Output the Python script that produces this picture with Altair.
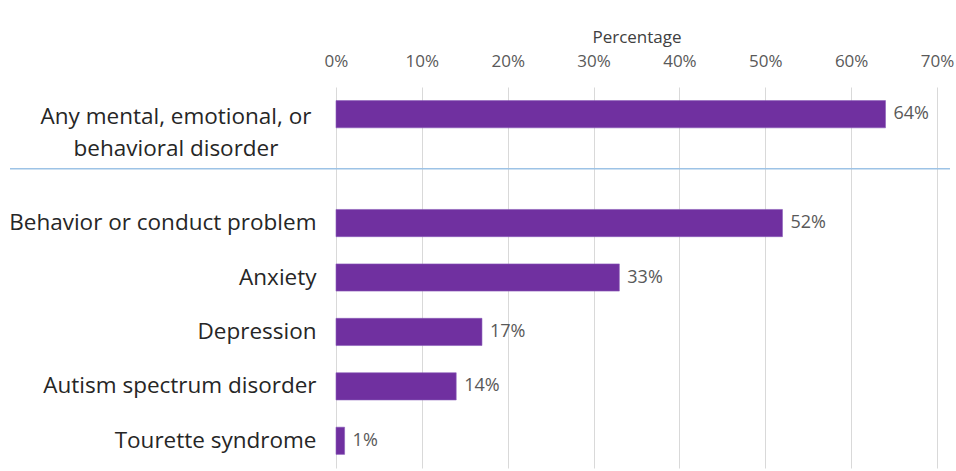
import altair as alt
import pandas as pd

categories = [
    "Any mental, emotional, or behavioral disorder",
    "Behavior or conduct problem",
    "Anxiety",
    "Depression",
    "Autism spectrum disorder",
    "Tourette syndrome",
]
values = [64, 52, 33, 17, 14, 1]
x_ticks = [0, 10, 20, 30, 40, 50, 60, 70]
blank_slot = " "
y_domain = [categories[0], blank_slot] + categories[1:]

FONT = "Open Sans"
PURPLE = "#7030A0"

df = pd.DataFrame({"cat": categories, "val": values})
top_df = pd.DataFrame({"cat": [categories[0]], "label": [["Any mental, emotional, or", "behavioral disorder"]]})
sep_df = pd.DataFrame({"cat": [blank_slot]})

y_scale = alt.Scale(domain=y_domain, paddingInner=0.5, paddingOuter=0.25)
x_scale = alt.Scale(domain=[0, 70], nice=False)

first = categories[0]

bars = alt.Chart(df).mark_bar(color=PURPLE, stroke="#8a5cb8", strokeWidth=0.6).encode(
    x=alt.X(
        "val:Q",
        scale=x_scale,
        axis=alt.Axis(
            orient="top",
            values=x_ticks,
            labelExpr="datum.value + '%'",
            title="Percentage",
            titleFont=FONT,
            titleFontSize=17,
            titleFontWeight="normal",
            titleColor="#404040",
            titlePadding=6,
            labelFont=FONT,
            labelFontSize=17,
            labelColor="#595959",
            labelPadding=17,
            labelFlush=False,
            labelOverlap=False,
            domain=False,
            ticks=False,
            grid=True,
            gridColor="#d9d9d9",
            gridWidth=1,
        ),
    ),
    y=alt.Y(
        "cat:N",
        scale=y_scale,
        sort=y_domain,
        axis=alt.Axis(
            title=None,
            domain=False,
            ticks=False,
            grid=False,
            labelFont=FONT,
            labelFontSize=22.5,
            labelColor="#262626",
            labelPadding=20,
            labelLimit=500,
            labelExpr=f"datum.value == '{first}' ? '' : datum.value",
        ),
    ),
)

value_labels = alt.Chart(df).mark_text(
    align="left", baseline="middle", dx=8, font=FONT, fontSize=18, color="#595959"
).encode(
    x=alt.X("val:Q", scale=x_scale),
    y=alt.Y("cat:N", scale=y_scale, sort=y_domain),
    text=alt.Text("label:N"),
).transform_calculate(label="datum.val + '%'")

top_label = alt.Chart(top_df).mark_text(
    align="center", baseline="middle", font=FONT, fontSize=22.5, color="#262626", lineHeight=32, dy=3
).encode(
    x=alt.value(-160),
    y=alt.Y("cat:N", scale=y_scale, sort=y_domain),
    text="label",
)

separator = alt.Chart(sep_df).mark_rule(color="#9dc3e6", strokeWidth=1.5).encode(
    x=alt.value(-326),
    x2=alt.value(614),
    y=alt.Y("cat:N", scale=y_scale, sort=y_domain),
)

chart = alt.layer(bars, value_labels, top_label, separator).properties(
    width=601,
    height=381,
    autosize=alt.AutoSizeParams(type="none"),
    padding={"left": 336, "top": 87, "right": 19, "bottom": 3},
    background="white",
).configure_view(stroke=None)

chart.save("out.html", embed_options={"renderer": "svg", "actions": False})
